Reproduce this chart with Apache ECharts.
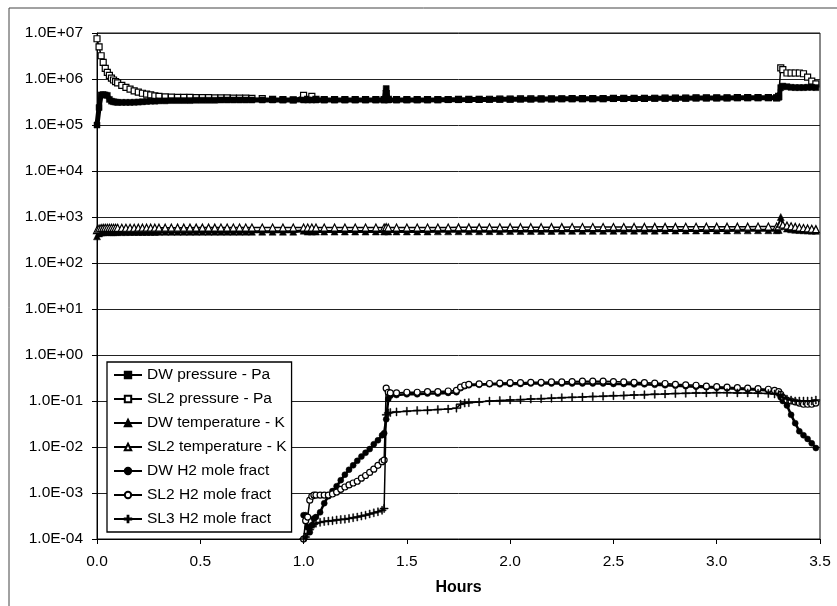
<!DOCTYPE html>
<html>
<head>
<meta charset="utf-8">
<script src="https://cdn.jsdelivr.net/npm/echarts@6/dist/echarts.min.js"></script>
<style>
html,body{margin:0;padding:0;background:#fff;}
#chart{width:837px;height:606px;}
</style>
</head>
<body>
<div id="chart"></div>
<script>
// ---- time axis (hours) for pressure / temperature series ----
const tP = [0,0.01,0.02,0.03,0.04,0.05,0.06,0.07,0.08,0.09,0.10,0.12,0.14,0.16,0.18,0.20,0.22,0.24,0.26,0.28,0.30,
  0.33,0.36,0.39,0.42,0.45,0.48,0.51,0.54,0.57,0.60,0.63,0.66,0.69,0.72,0.75,0.80,0.85,0.90,0.95,
  1.00,1.02,1.04,1.06,1.10,1.15,1.20,1.25,1.30,1.35,1.39,1.40,1.41,1.45,1.50,
  1.55,1.60,1.65,1.70,1.75,1.80,1.85,1.90,1.95,2.00,2.05,2.10,2.15,2.20,2.25,2.30,2.35,2.40,2.45,2.50,2.55,2.60,2.65,2.70,2.75,2.80,2.85,2.90,2.95,3.00,3.05,3.10,3.15,3.20,3.25,
  3.29,3.30,3.31,3.32,3.34,3.36,3.38,3.40,3.42,3.44,3.46,3.48];

const dwPressure = [1.0e5,2.4e5,4.5e5,4.6e5,4.5e5,4.4e5,3.6e5,3.3e5,3.2e5,3.15e5,3.1e5,3.1e5,3.1e5,3.1e5,3.12e5,3.15e5,3.2e5,3.25e5,3.3e5,3.3e5,3.35e5,
  3.35e5,3.4e5,3.4e5,3.4e5,3.4e5,3.45e5,3.45e5,3.45e5,3.45e5,3.5e5,3.5e5,3.5e5,3.5e5,3.5e5,3.5e5,3.5e5,3.5e5,3.5e5,3.5e5,
  3.5e5,3.5e5,3.5e5,3.5e5,3.5e5,3.5e5,3.5e5,3.5e5,3.5e5,3.5e5,3.5e5,6.2e5,3.5e5,3.5e5,3.5e5,
  3.5e5,3.5e5,3.52e5,3.55e5,3.55e5,3.57e5,3.6e5,3.6e5,3.62e5,3.63e5,3.65e5,3.65e5,3.67e5,3.68e5,3.7e5,3.7e5,3.72e5,3.72e5,3.73e5,3.75e5,3.75e5,3.77e5,3.78e5,3.8e5,3.8e5,3.82e5,3.83e5,3.85e5,3.85e5,3.86e5,3.88e5,3.9e5,3.9e5,3.9e5,3.92e5,
  3.9e5,4.0e5,6.5e5,7.0e5,6.8e5,6.6e5,6.5e5,6.5e5,6.5e5,6.6e5,6.6e5,6.5e5];

const sl2Pressure = [7.5e6,5.0e6,3.2e6,2.3e6,1.7e6,1.4e6,1.2e6,1.05e6,9.5e5,8.8e5,8.2e5,7.3e5,6.6e5,6.0e5,5.5e5,5.2e5,4.9e5,4.7e5,4.5e5,4.3e5,4.2e5,
  4.1e5,4.05e5,4.0e5,4.0e5,4.0e5,3.95e5,3.95e5,3.95e5,3.9e5,3.9e5,3.9e5,3.85e5,3.85e5,3.85e5,3.8e5,3.75e5,3.6e5,3.55e5,3.5e5,
  4.4e5,3.6e5,4.2e5,3.6e5,3.55e5,3.55e5,3.55e5,3.55e5,3.55e5,3.55e5,3.55e5,4.8e5,3.6e5,3.55e5,3.55e5,
  3.55e5,3.55e5,3.55e5,3.58e5,3.6e5,3.6e5,3.62e5,3.63e5,3.65e5,3.66e5,3.68e5,3.68e5,3.7e5,3.7e5,3.72e5,3.73e5,3.75e5,3.75e5,3.76e5,3.78e5,3.78e5,3.8e5,3.8e5,3.82e5,3.83e5,3.85e5,3.85e5,3.87e5,3.88e5,3.9e5,3.9e5,3.92e5,3.93e5,3.95e5,3.95e5,
  3.9e5,4.2e5,1.75e6,1.6e6,1.35e6,1.35e6,1.35e6,1.35e6,1.3e6,1.1e6,9.0e5,7.8e5];

const dwTemperature = [380,440,460,465,470,470,470,468,468,470,470,470,470,472,472,472,472,474,474,474,475,
  475,475,475,476,476,476,477,477,477,478,478,478,479,479,479,480,480,480,480,
  505,482,482,482,482,482,483,483,483,484,484,530,485,485,485,
  485,485,488,488,490,490,490,492,492,495,495,495,497,497,500,500,500,500,502,502,505,505,505,505,507,507,508,508,510,510,510,512,512,515,515,
  515,520,1000,650,560,540,530,520,515,510,505,500];

const sl2Temperature = [520,560,575,580,582,582,582,582,583,583,583,583,584,584,584,585,585,585,585,586,586,
  586,586,587,587,587,588,588,588,588,589,589,589,589,590,590,590,590,590,590,
  590,590,590,590,590,590,590,590,590,590,590,600,590,590,590,
  590,590,592,592,595,595,595,597,597,600,600,600,600,602,602,605,605,605,605,607,607,608,608,610,610,610,612,612,615,615,615,617,617,620,620,
  620,630,720,680,650,630,610,590,575,565,555,545];

// ---- time axis (hours) for H2 mole fraction series ----
const tH = [1.00,1.01,1.02,1.03,1.04,1.05,1.06,1.08,1.10,1.12,1.14,1.16,1.18,1.20,1.22,1.24,1.26,1.28,1.30,1.32,1.34,1.36,1.38,1.39,
  1.40,1.41,1.42,1.45,1.50,1.55,1.60,1.65,1.70,1.74,1.76,1.78,1.80,
  1.85,1.90,1.95,2.00,2.05,2.10,2.15,2.20,2.25,2.30,2.35,2.40,2.45,2.50,2.55,2.60,2.65,2.70,2.75,2.80,2.85,2.90,2.95,3.00,3.05,3.10,3.15,3.20,3.25,
  3.28,3.30,3.31,3.32,3.34,3.36,3.38,3.40,3.42,3.44,3.46,3.48];

const dwH2 = [3.3e-4,3.3e-4,1.8e-4,1.4e-4,2.0e-4,2.8e-4,3.0e-4,3.8e-4,6.0e-4,8.5e-4,1.1e-3,1.4e-3,1.9e-3,2.5e-3,3.2e-3,4.0e-3,5.0e-3,6.2e-3,7.5e-3,9.0e-3,1.15e-2,1.4e-2,1.8e-2,2.0e-2,
  4.0e-2,1.1e-1,1.3e-1,1.35e-1,1.4e-1,1.4e-1,1.45e-1,1.45e-1,1.5e-1,1.55e-1,1.9e-1,2.1e-1,2.2e-1,
  2.25e-1,2.3e-1,2.3e-1,2.35e-1,2.35e-1,2.4e-1,2.4e-1,2.4e-1,2.4e-1,2.4e-1,2.4e-1,2.4e-1,2.4e-1,2.35e-1,2.35e-1,2.3e-1,2.3e-1,2.25e-1,2.2e-1,2.15e-1,2.1e-1,2.05e-1,2.0e-1,1.95e-1,1.9e-1,1.85e-1,1.8e-1,1.75e-1,1.7e-1,
  1.65e-1,1.5e-1,1.2e-1,1.0e-1,8.0e-2,5.0e-2,3.3e-2,2.2e-2,1.8e-2,1.5e-2,1.2e-2,9.5e-3];

const sl2H2 = [1.0e-4,2.5e-4,3.0e-4,7.0e-4,8.5e-4,9.0e-4,9.0e-4,9.0e-4,9.0e-4,9.0e-4,9.5e-4,1.05e-3,1.2e-3,1.35e-3,1.5e-3,1.65e-3,1.8e-3,2.1e-3,2.4e-3,2.8e-3,3.3e-3,4.0e-3,4.8e-3,5.2e-3,
  1.9e-1,1.55e-1,1.5e-1,1.5e-1,1.55e-1,1.55e-1,1.6e-1,1.6e-1,1.65e-1,1.7e-1,2.0e-1,2.2e-1,2.3e-1,
  2.35e-1,2.4e-1,2.45e-1,2.5e-1,2.5e-1,2.55e-1,2.55e-1,2.6e-1,2.6e-1,2.65e-1,2.7e-1,2.7e-1,2.7e-1,2.65e-1,2.6e-1,2.55e-1,2.5e-1,2.45e-1,2.4e-1,2.3e-1,2.25e-1,2.2e-1,2.1e-1,2.05e-1,2.0e-1,1.95e-1,1.9e-1,1.85e-1,1.8e-1,
  1.7e-1,1.6e-1,1.4e-1,1.2e-1,1.05e-1,1.0e-1,9.5e-2,9.0e-2,8.5e-2,8.5e-2,8.5e-2,9.0e-2];

const sl3H2 = [1.0e-4,1.1e-4,1.3e-4,1.6e-4,1.9e-4,2.1e-4,2.2e-4,2.3e-4,2.4e-4,2.45e-4,2.5e-4,2.6e-4,2.65e-4,2.7e-4,2.8e-4,2.9e-4,3.0e-4,3.15e-4,3.3e-4,3.5e-4,3.7e-4,3.9e-4,4.2e-4,4.6e-4,
  5.0e-2,5.5e-2,5.6e-2,5.8e-2,6.0e-2,6.2e-2,6.3e-2,6.5e-2,6.7e-2,7.0e-2,8.5e-2,9.0e-2,9.2e-2,
  9.5e-2,1.0e-1,1.02e-1,1.05e-1,1.07e-1,1.1e-1,1.12e-1,1.15e-1,1.18e-1,1.2e-1,1.22e-1,1.25e-1,1.27e-1,1.3e-1,1.32e-1,1.35e-1,1.37e-1,1.4e-1,1.42e-1,1.45e-1,1.47e-1,1.5e-1,1.5e-1,1.52e-1,1.52e-1,1.5e-1,1.5e-1,1.48e-1,1.45e-1,
  1.42e-1,1.38e-1,1.3e-1,1.2e-1,1.1e-1,1.05e-1,1.0e-1,1.0e-1,1.0e-1,1.0e-1,1.0e-1,1.05e-1];

const seriesNames = ['DW pressure - Pa','SL2 pressure - Pa','DW temperature - K','SL2 temperature - K','DW H2 mole fract','SL2 H2 mole fract','SL3 H2 mole fract'];
const xTicks = [0,0.5,1.0,1.5,2.0,2.5,3.0,3.5];

function pairs(t, v){ return t.map((x,i)=>[x, v[i]]); }
function expLabel(v){
  const e = Math.round(Math.log10(v));
  const a = Math.abs(e);
  return '1.0E' + (e<0?'-':'+') + (a<10?'0':'') + a;
}

const FONT = "'Liberation Sans', Arial, sans-serif";
const PLUS = 'path://M0,4.4H10V5.6H0Z M4.4,0H5.6V10H4.4Z';

function mk(name, data, symbol, size, filled, lw, z){
  return {
    name, type:'line', data, symbol, symbolSize:size, showAllSymbol:true,
    lineStyle:{color:'#000', width:lw},
    itemStyle:{color: filled ? '#000' : '#fff', borderColor:'#000', borderWidth: filled ? 0.5 : 1.2},
    emphasis:{disabled:true}, z:z
  };
}

const chart = echarts.init(document.getElementById('chart'), null, {renderer:'canvas'});
chart.setOption({
  animation:false,
  backgroundColor:'#fff',
  textStyle:{fontFamily:FONT, color:'#000'},
  graphic:[{type:'rect', shape:{x:9, y:8, width:900, height:700}, style:{fill:'none', stroke:'#444', lineWidth:1}, silent:true, z:-10}],
  grid:{left:97, top:33, right:17, bottom:67, show:true, borderColor:'#111', borderWidth:1, backgroundColor:'transparent'},
  legend:{
    orient:'vertical', left:107, top:362,
    padding:[5,5,5,6], itemGap:8, itemWidth:28, itemHeight:8,
    backgroundColor:'#fff', borderColor:'#000', borderWidth:1.3,
    textStyle:{fontSize:15.5, fontFamily:FONT, color:'#000', lineHeight:16},
    data: seriesNames
  },
  xAxis:{
    type:'value', min:0, max:3.5, interval:0.5,
    name:'Hours', nameLocation:'middle', nameGap:41,
    nameTextStyle:{fontSize:16, fontWeight:'bold', fontFamily:FONT, color:'#000'},
    axisLine:{lineStyle:{color:'#000', width:1}},
    axisTick:{show:true, length:5, lineStyle:{color:'#000'}},
    axisLabel:{fontSize:15.5, color:'#000', margin:15, fontFamily:FONT, formatter:v=>v.toFixed(1)},
    splitLine:{show:false}
  },
  yAxis:{
    type:'log', logBase:10, min:1e-4, max:1e7, interval:1,
    axisLine:{show:true, lineStyle:{color:'#000', width:1}},
    axisTick:{show:true, length:5, lineStyle:{color:'#000'}},
    axisLabel:{fontSize:15.5, color:'#000', margin:14, fontFamily:FONT, formatter:expLabel},
    splitLine:{show:true, lineStyle:{color:'#222', width:1}},
    minorTick:{show:false}
  },
  series:[
    mk(seriesNames[0], pairs(tP, dwPressure), 'rect', 6, true, 5, 4),
    mk(seriesNames[1], pairs(tP, sl2Pressure), 'rect', 6, false, 1.5, 3),
    mk(seriesNames[2], pairs(tP, dwTemperature), 'triangle', 7, true, 3, 3),
    mk(seriesNames[3], pairs(tP, sl2Temperature), 'triangle', 7, false, 1.5, 4),
    mk(seriesNames[4], pairs(tH, dwH2), 'circle', 6, true, 2.5, 3),
    mk(seriesNames[5], pairs(tH, sl2H2), 'circle', 6, false, 1.5, 4),
    mk(seriesNames[6], pairs(tH, sl3H2), PLUS, 8, true, 1.5, 5)
  ]
});
</script>
</body>
</html>
